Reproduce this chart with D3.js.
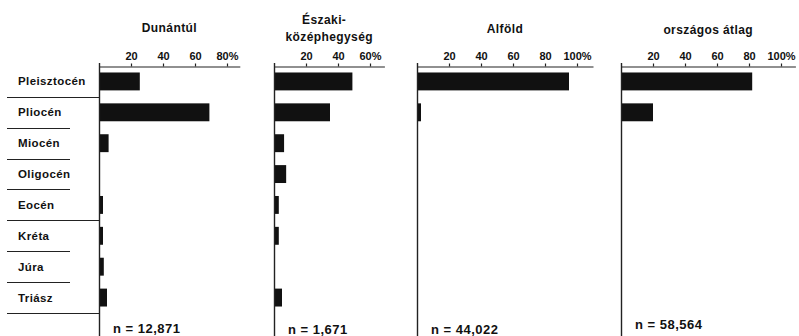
<!DOCTYPE html>
<html>
<head>
<meta charset="utf-8">
<script src="https://cdn.jsdelivr.net/npm/d3@7"></script>
<style>
  html, body { margin: 0; padding: 0; background: #fff; }
  svg { display: block; }
  text { font-family: "Liberation Sans", Arial, sans-serif; font-weight: bold; fill: #111; }
</style>
</head>
<body>
<svg id="chart" width="799" height="336"></svg>
<script>
// ---------- data ----------
const categories = ["Pleisztocén", "Pliocén", "Miocén", "Oligocén", "Eocén", "Kréta", "Júra", "Triász"];
const periods    = ["negyedidőszak", "harmadidőszak", "harmadidőszak", "harmadidőszak", "harmadidőszak", "mezozoikum", "mezozoikum", "mezozoikum"];
const regions    = ["Dunántúl", "Északi-\nközéphegység", "Alföld", "országos átlag"];
const dunantul   = [25.5, 69, 6, 0, 2.5, 2.5, 3, 5];
const eszaki     = [49, 35, 6.3, 7.6, 3, 3, 0, 5];
const alfold     = [95, 2.5, 0, 0, 0, 0, 0, 0];
const orszagos   = [82, 20, 0, 0, 0, 0, 0, 0];
const nValues    = ["12,871", "1,671", "44,022", "58,564"];
const ticks1     = [20, 40, 60, 80];
const ticks2     = [20, 40, 60];
const ticks3     = [20, 40, 60, 80, 100];
const ticks4     = [20, 40, 60, 80, 100];

// ---------- layout ----------
const series = [dunantul, eszaki, alfold, orszagos];
const tickSets = [ticks1, ticks2, ticks3, ticks4];
const origins = [99, 274, 417, 621];
const axisMax = [88, 69, 110, 109];
const pxPerPct = 1.6;
const titleBase = [[32], [24, 41], [33], [34]];
const nBase = [333, 334, 334, 329];
const axisY = 66.5;

const svg = d3.select("#chart");
const y = d3.scaleBand().domain(categories).range([66, 313]).paddingInner(0.42).paddingOuter(0.21);
const halfGap = y.step() * y.paddingInner() / 2;

// category labels
svg.append("g").selectAll("text").data(categories).join("text")
  .attr("x", 18)
  .attr("y", d => y(d) + y.bandwidth() / 2)
  .attr("dominant-baseline", "central")
  .style("font-size", "11.5px")
  .style("letter-spacing", "0.4px")
  .text(d => d);

// separators
svg.append("g").selectAll("line").data(categories).join("line")
  .attr("x1", 7)
  .attr("x2", (d, i) => (i === categories.length - 1 || periods[i] !== periods[i + 1]) ? origins[0] + 1 : 70)
  .attr("y1", d => Math.round(y(d) + y.bandwidth() + halfGap) + 0.5)
  .attr("y2", d => Math.round(y(d) + y.bandwidth() + halfGap) + 0.5)
  .attr("stroke", "#222").attr("stroke-width", 1.2);

regions.forEach((reg, p) => {
  const x0 = origins[p];
  const x = d3.scaleLinear().domain([0, axisMax[p]]).range([x0, x0 + axisMax[p] * pxPerPct]);
  const g = svg.append("g");

  // bars
  g.selectAll("rect").data(series[p]).join("rect")
    .attr("x", x(0))
    .attr("y", (d, i) => y(categories[i]))
    .attr("width", d => x(d) - x(0))
    .attr("height", y.bandwidth())
    .attr("fill", "#111");

  // top axis
  const ts = tickSets[p];
  const axis = d3.axisTop(x).tickValues(ts).tickSize(3).tickSizeOuter(0)
    .tickFormat((d, i) => d + (i === ts.length - 1 ? "%" : ""));
  const ag = g.append("g").attr("transform", `translate(0,${axisY})`).call(axis);
  ag.select(".domain").attr("stroke", "#222").attr("stroke-width", 1.2);
  ag.selectAll(".tick line").attr("stroke", "#222").attr("stroke-width", 1.2);
  ag.selectAll(".tick text")
    .attr("y", -7)
    .style("font-family", "'Liberation Sans', Arial, sans-serif")
    .style("font-weight", "bold")
    .style("font-size", "11px")
    .attr("fill", "#111");

  // vertical baseline
  g.append("line")
    .attr("x1", x(0) + 0.5).attr("x2", x(0) + 0.5)
    .attr("y1", 63).attr("y2", 336)
    .attr("stroke", "#222").attr("stroke-width", 1.4);

  // title
  const cx = (x(0) + x(axisMax[p])) / 2;
  reg.split("\n").forEach((line, k) => {
    g.append("text")
      .attr("x", cx + (p === 1 && k === 0 ? -5 : 0))
      .attr("y", titleBase[p][k])
      .attr("text-anchor", "middle")
      .style("font-size", "12px")
      .style("letter-spacing", "0.4px")
      .text(line);
  });

  // n label
  g.append("text")
    .attr("x", x(0) + 14)
    .attr("y", nBase[p])
    .style("font-size", "13px")
    .style("letter-spacing", "0.5px")
    .text("n = " + nValues[p]);
});
</script>
</body>
</html>
